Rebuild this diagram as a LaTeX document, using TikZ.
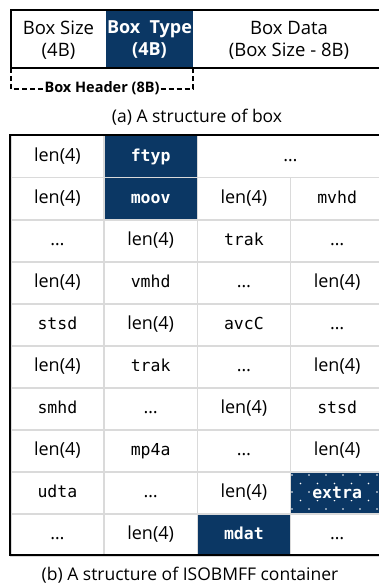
\documentclass[tikz,border=0pt]{standalone}
\usepackage{fontspec}
\setmainfont{Open Sans}
\newfontfamily\monof{DejaVu Sans Mono}
\definecolor{navy}{HTML}{0B3764}
\definecolor{gridc}{HTML}{DADADA}
\newcommand\myell{…}
\begin{document}
\begin{tikzpicture}[x=1pt,y=-1pt,
  cell/.style={draw=gridc, line width=1.5pt, minimum width=93.25pt, minimum height=42pt,
    inner sep=0pt, text height=13pt, text depth=4pt, anchor=north west, font=\fontsize{18}{20}\selectfont},
  mono/.style={font=\monof\fontsize{16.5}{18}\selectfont},
  dark/.style={fill=navy, text=white, font=\monof\bfseries\fontsize{16.5}{18}\selectfont},
  hdr/.style={inner sep=0pt, align=center, font=\fontsize{18.5}{22}\selectfont},
  captxt/.style={inner sep=0pt, font=\fontsize{17.5}{20}\selectfont},
  frame/.style={draw=black, line width=2.4pt},
  brk/.style={draw=black, line width=2pt, dash pattern=on 5pt off 3pt}]
\useasboundingbox (0,0) rectangle (379,585);

% (a) box structure
\fill[navy] (106,10) rectangle (193,68);
\node[hdr] (bsize) at (58.5,40) {Box Size\\(4B)};
\node[hdr, text=white, font=\bfseries\fontsize{18}{22}\selectfont] (btype) at (149.5,40) {Box\ \ Type\\(4B)};
\node[hdr] (bdata) at (289,40) {Box Data\\(Box Size - 8B)};
\draw[frame, line width=2pt] (11,10) rectangle (386,68);
\coordinate (hl) at (11,68);
\coordinate (hr) at (193,68);
\node[inner sep=0pt, font=\bfseries\fontsize{14.5}{16}\selectfont] (bhead) at (102,88) {Box Header (8B)};
\draw[brk] (hl) -- (11,89) -- ([xshift=-1pt]bhead.west |- 0,89);
\draw[brk] ([xshift=1pt]bhead.east |- 0,89) -- (193,89) -- (hr);
\node[captxt] (capa) at (197,117) {(a) A structure of box};

% (b) ISOBMFF structure
% row 1
\node[cell] (r1c1) at (10,135) {len(4)};
\node[cell,dark] (r1c2) at (103.25,135) {ftyp};
\node[cell, minimum width=186.5pt] (r1c3) at (196.5,135) {\myell};
% row 2
\node[cell] (r2c1) at (10,177) {len(4)};
\node[cell,dark] (r2c2) at (103.25,177) {moov};
\node[cell] (r2c3) at (196.5,177) {len(4)};
\node[cell,mono] (r2c4) at (289.75,177) {mvhd};
% row 3
\node[cell] (r3c1) at (10,219) {\myell};
\node[cell] (r3c2) at (103.25,219) {len(4)};
\node[cell,mono] (r3c3) at (196.5,219) {trak};
\node[cell] (r3c4) at (289.75,219) {\myell};
% row 4
\node[cell] (r4c1) at (10,261) {len(4)};
\node[cell,mono] (r4c2) at (103.25,261) {vmhd};
\node[cell] (r4c3) at (196.5,261) {\myell};
\node[cell] (r4c4) at (289.75,261) {len(4)};
% row 5
\node[cell,mono] (r5c1) at (10,303) {stsd};
\node[cell] (r5c2) at (103.25,303) {len(4)};
\node[cell,mono] (r5c3) at (196.5,303) {avcC};
\node[cell] (r5c4) at (289.75,303) {\myell};
% row 6
\node[cell] (r6c1) at (10,345) {len(4)};
\node[cell,mono] (r6c2) at (103.25,345) {trak};
\node[cell] (r6c3) at (196.5,345) {\myell};
\node[cell] (r6c4) at (289.75,345) {len(4)};
% row 7
\node[cell,mono] (r7c1) at (10,387) {smhd};
\node[cell] (r7c2) at (103.25,387) {\myell};
\node[cell] (r7c3) at (196.5,387) {len(4)};
\node[cell,mono] (r7c4) at (289.75,387) {stsd};
% row 8
\node[cell] (r8c1) at (10,429) {len(4)};
\node[cell,mono] (r8c2) at (103.25,429) {mp4a};
\node[cell] (r8c3) at (196.5,429) {\myell};
\node[cell] (r8c4) at (289.75,429) {len(4)};
% row 9
\node[cell,mono] (r9c1) at (10,471) {udta};
\node[cell] (r9c2) at (103.25,471) {\myell};
\node[cell] (r9c3) at (196.5,471) {len(4)};
\node[cell,fill=navy] (r9c4) at (289.75,471) {};
\begin{scope}
  \clip (290.5,471.75) rectangle (382.25,512.25);
  \foreach \yy/\xo in {475/0,483.5/8.5,492/0,500.5/8.5,509/0}{
    \foreach \k in {0,...,6}{
      \fill[white] (292+\xo+17*\k,\yy) circle (0.8pt);
    }
  }
\end{scope}
\node[dark, inner sep=1pt] (extra) at (r9c4.center) {extra};
% row 10
\node[cell] (r10c1) at (10,513) {\myell};
\node[cell] (r10c2) at (103.25,513) {len(4)};
\node[cell,dark] (r10c3) at (196.5,513) {mdat};
\node[cell] (r10c4) at (289.75,513) {\myell};

\draw[frame] (10,135) rectangle (384,555);
\node[captxt] (capb) at (190,575) {(b) A structure of ISOBMFF container};
\end{tikzpicture}
\end{document}
